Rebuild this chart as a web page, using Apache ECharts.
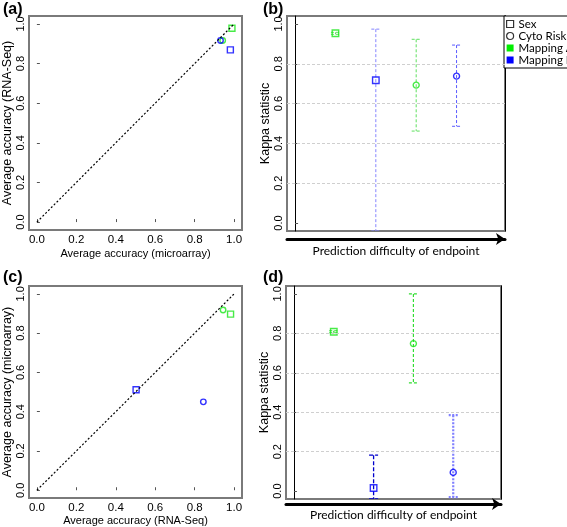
<!DOCTYPE html>
<html>
<head>
<meta charset="utf-8">
<script src="https://cdn.jsdelivr.net/npm/echarts@6/dist/echarts.min.js"></script>
<style>
html, body { margin: 0; padding: 0; background: #fff; }
#chart { width: 567px; height: 527px; }
</style>
</head>
<body>
<div id="chart"></div>
<script>
// Data
var endpoints = ['Sex', 'Cyto Risk'];
var mappings = ['Mapping A', 'Mapping B'];

// (a) average accuracy [microarray, RNA-Seq], one pair per endpoint
var accA_mappingA = [[0.989, 0.978], [0.942, 0.916]];
var accA_mappingB = [[0.981, 0.869], [0.931, 0.916]];
// (c) average accuracy [RNA-Seq, microarray], one pair per endpoint
var accC_mappingA = [[0.982, 0.897], [0.944, 0.918]];
var accC_mappingB = [[0.503, 0.512], [0.844, 0.450]];
var identityLine = [[0, 0], [1, 1]];
var accTicks = [0, 0.2, 0.4, 0.6, 0.8, 1.0];

// (b), (d) kappa statistic along the difficulty axis
var kappaPos = [1, 2, 3, 4];
var kappaEndpoint = ['Sex', 'Sex', 'Cyto Risk', 'Cyto Risk'];
var kappaMapping = ['Mapping A', 'Mapping B', 'Mapping A', 'Mapping B'];
var kappaB = [0.953, 0.717, 0.693, 0.738];
var kappaBLow = [0.948, -0.04, 0.462, 0.486];
var kappaBHigh = [0.958, 0.974, 0.923, 0.894];
var kappaD = [0.808, 0.016, 0.748, 0.095];
var kappaDLow = [0.803, -0.04, 0.549, -0.03];
var kappaDHigh = [0.813, 0.182, 1.0, 0.385];
var kappaTicks = [0, 0.2, 0.4, 0.6, 0.8, 1.0];
var kappaGrid = [0.2, 0.4, 0.6, 0.8];

// Styles
var mapColor = { 'Mapping A': '#19e619', 'Mapping B': '#0000ff' };
var endpointSymbol = { 'Sex': 'rect', 'Cyto Risk': 'circle' };
var errStylesB = [
    { color: '#5ee05e', width: 1, dash: [3, 2] },
    { color: '#8585ff', width: 1, dash: [3, 2] },
    { color: '#5ee05e', width: 1, dash: [3, 2] },
    { color: '#5a5aff', width: 1, dash: [3, 2] }
];
var errStylesD = [
    { color: '#33dd33', width: 1.2, dash: [3, 2] },
    { color: '#0000cc', width: 1.3, dash: [4, 2] },
    { color: '#33dd33', width: 1.2, dash: [3, 2] },
    { color: '#8080ff', width: 2.2, dash: [2, 1.5] }
];

var arial = '"Liberation Sans", Arial, sans-serif';
var calibri = 'Lato, "Open Sans", sans-serif';

var chart = echarts.init(document.getElementById('chart'), null, { renderer: 'canvas' });

// Scatter of accuracy for one endpoint in one panel
function accSeries(gridIdx, mapA, mapB, e) {
    return {
        name: endpoints[e],
        type: 'scatter',
        xAxisIndex: gridIdx,
        yAxisIndex: gridIdx,
        symbol: endpointSymbol[endpoints[e]],
        symbolSize: endpointSymbol[endpoints[e]] === 'rect' ? 6 : 5.5,
        data: [
            { value: mapA[e], itemStyle: { color: 'rgba(0,0,0,0)', borderColor: mapColor[mappings[0]], borderWidth: 1.4 } },
            { value: mapB[e], itemStyle: { color: 'rgba(0,0,0,0)', borderColor: mapColor[mappings[1]], borderWidth: 1.4 } }
        ]
    };
}

// Scatter of kappa points for one endpoint
function kappaSeries(gridIdx, values, endpoint, withGrid) {
    var data = [];
    for (var i = 0; i < kappaPos.length; i++) {
        if (kappaEndpoint[i] !== endpoint) continue;
        data.push({
            value: [kappaPos[i], values[i]],
            itemStyle: { color: 'rgba(0,0,0,0)', borderColor: mapColor[kappaMapping[i]], borderWidth: 1.4 }
        });
    }
    var s = {
        name: endpoint,
        type: 'scatter',
        xAxisIndex: gridIdx,
        yAxisIndex: gridIdx,
        symbol: endpointSymbol[endpoint],
        symbolSize: endpointSymbol[endpoint] === 'rect' ? 6.5 : 6,
        z: 3,
        data: data
    };
    if (withGrid) {
        s.markLine = {
            silent: true,
            symbol: 'none',
            label: { show: false },
            lineStyle: { color: '#cfcfcf', type: [3, 2], width: 1.2 },
            data: kappaGrid.map(function (v) { return { yAxis: v }; })
        };
    }
    return s;
}

// Error bars for one mapping
function errSeries(gridIdx, low, high, mapping, styles) {
    var data = [];
    for (var i = 0; i < kappaPos.length; i++) {
        if (kappaMapping[i] !== mapping) continue;
        data.push([kappaPos[i], low[i], high[i], i]);
    }
    return {
        name: mapping,
        type: 'custom',
        xAxisIndex: gridIdx,
        yAxisIndex: gridIdx,
        clip: true,
        z: 2,
        encode: { x: 0, y: [1, 2] },
        itemStyle: { color: mapColor[mapping] },
        renderItem: function (params, api) {
            var st = styles[api.value(3)];
            var top = api.coord([api.value(0), api.value(2)]);
            var bot = api.coord([api.value(0), api.value(1)]);
            var half = 4.5;
            var style = { stroke: st.color, lineWidth: st.width, lineDash: st.dash, fill: null };
            return {
                type: 'group',
                children: [
                    { type: 'line', shape: { x1: top[0], y1: top[1], x2: bot[0], y2: bot[1] }, style: style },
                    { type: 'line', shape: { x1: top[0] - half, y1: top[1], x2: top[0] + half, y2: top[1] }, style: style },
                    { type: 'line', shape: { x1: bot[0] - half, y1: bot[1], x2: bot[0] + half, y2: bot[1] }, style: style }
                ]
            };
        },
        data: data
    };
}

function accXAxis(gridIdx, name, nameGap) {
    return {
        type: 'value', gridIndex: gridIdx, min: -0.04, max: 1.04,
        axisLine: { show: false },
        axisTick: { show: true, inside: true, length: 3, customValues: accTicks, lineStyle: { color: '#555' } },
        axisLabel: {
            customValues: accTicks, margin: 4, color: '#000', fontFamily: arial, fontSize: 11.5,
            formatter: function (v) { return v.toFixed(1); }
        },
        splitLine: { show: false },
        name: name, nameLocation: 'middle', nameGap: nameGap,
        nameTextStyle: { fontFamily: arial, fontSize: 11, color: '#000' }
    };
}

function leftYAxis(gridIdx, ticks, name, black) {
    return {
        type: 'value', gridIndex: gridIdx, min: -0.04, max: 1.04,
        axisLine: { show: black, lineStyle: { color: '#000', width: 1 } },
        axisTick: { show: true, inside: true, length: 3, customValues: ticks, lineStyle: { color: '#555' } },
        axisLabel: {
            customValues: ticks, rotate: 90, margin: 3, color: '#000', fontFamily: arial, fontSize: 11,
            formatter: function (v) { return v.toFixed(1); }
        },
        splitLine: { show: false },
        name: name, nameLocation: 'middle', nameGap: 15,
        nameTextStyle: { fontFamily: arial, fontSize: 12.5, color: '#000' }
    };
}

function difficultyAxis(gridIdx, offset, nameGap) {
    return {
        type: 'value', gridIndex: gridIdx, min: -0.2, max: 5.2, offset: offset,
        axisLine: {
            show: true, onZero: false, symbol: ['none', 'arrow'], symbolSize: [9, 9],
            lineStyle: { color: '#000', width: 3 }
        },
        axisTick: { show: false },
        axisLabel: { show: false },
        splitLine: { show: false },
        name: 'Prediction difficulty of endpoint', nameLocation: 'middle', nameGap: nameGap,
        nameTextStyle: { fontFamily: calibri, fontSize: 12, color: '#000', verticalAlign: 'top' }
    };
}

function rightBorder(gridIdx) {
    return {
        type: 'value', gridIndex: gridIdx, position: 'right', min: -0.04, max: 1.04,
        axisLine: { show: true, lineStyle: { color: '#000', width: 1 } },
        axisTick: { show: false }, axisLabel: { show: false }, splitLine: { show: false }
    };
}

var gridBox = { show: true, borderColor: '#7a7a7a', borderWidth: 2, backgroundColor: 'rgba(0,0,0,0)' };

chart.setOption({
    animation: false,
    backgroundColor: '#fff',

    // Panel letters
    graphic: [
        { type: 'text', left: 3, top: 2, style: { text: '(a)', font: 'bold 16px ' + arial, fill: '#000' } },
        { type: 'text', left: 263, top: 2, style: { text: '(b)', font: 'bold 16px ' + arial, fill: '#000' } },
        { type: 'text', left: 3, top: 270, style: { text: '(c)', font: 'bold 16px ' + arial, fill: '#000' } },
        { type: 'text', left: 263, top: 270, style: { text: '(d)', font: 'bold 16px ' + arial, fill: '#000' } }
    ],

    // Legend box of panel (b)
    legend: {
        orient: 'vertical',
        left: 504,
        top: 16,
        itemWidth: 7,
        itemHeight: 7,
        itemGap: 0,
        itemTextGap: 6,
        padding: [2, 3, 2, 2],
        borderColor: '#000',
        borderWidth: 1,
        backgroundColor: '#fff',
        selectedMode: false,
        textStyle: { fontFamily: calibri, fontSize: 11.5, lineHeight: 11.5, color: '#000' },
        data: [
            { name: 'Sex', icon: 'rect', itemStyle: { color: '#fff', borderColor: '#000', borderWidth: 1.2 } },
            { name: 'Cyto Risk', icon: 'circle', itemStyle: { color: '#fff', borderColor: '#000', borderWidth: 1.2 } },
            { name: 'Mapping A', icon: 'rect', itemStyle: { color: '#00ee00', borderWidth: 0 } },
            { name: 'Mapping B', icon: 'rect', itemStyle: { color: '#0000ff', borderWidth: 0 } }
        ]
    },

    // Setup grids
    grid: [
        Object.assign({ left: 25, top: 16, width: 217, height: 214 }, gridBox),
        Object.assign({ left: 287, top: 16, width: 218, height: 215 }, gridBox),
        Object.assign({ left: 25, top: 286, width: 217, height: 213 }, gridBox),
        Object.assign({ left: 286, top: 286, width: 215, height: 213 }, gridBox)
    ],

    xAxis: [
        accXAxis(0, 'Average accuracy (microarray)', 18),
        difficultyAxis(1, 8, 6),
        accXAxis(2, 'Average accuracy (RNA-Seq)', 15),
        difficultyAxis(3, 5, 5)
    ],

    yAxis: [
        leftYAxis(0, accTicks, 'Average accuracy (RNA-Seq)', false),
        leftYAxis(1, kappaTicks, 'Kappa statistic', true),
        leftYAxis(2, accTicks, 'Average accuracy (microarray)', false),
        leftYAxis(3, kappaTicks, 'Kappa statistic', true),
        rightBorder(1),
        rightBorder(3)
    ],

    // Add series
    series: [
        {
            name: 'identity a', type: 'line', xAxisIndex: 0, yAxisIndex: 0,
            symbol: 'none', data: identityLine,
            lineStyle: { color: '#000', width: 1.2, type: [2, 2] }
        },
        accSeries(0, accA_mappingA, accA_mappingB, 0),
        accSeries(0, accA_mappingA, accA_mappingB, 1),

        {
            name: 'identity c', type: 'line', xAxisIndex: 2, yAxisIndex: 2,
            symbol: 'none', data: identityLine,
            lineStyle: { color: '#000', width: 1.2, type: [2, 2] }
        },
        accSeries(2, accC_mappingA, accC_mappingB, 0),
        accSeries(2, accC_mappingA, accC_mappingB, 1),

        kappaSeries(1, kappaB, 'Sex', true),
        kappaSeries(1, kappaB, 'Cyto Risk', false),
        errSeries(1, kappaBLow, kappaBHigh, 'Mapping A', errStylesB),
        errSeries(1, kappaBLow, kappaBHigh, 'Mapping B', errStylesB),

        kappaSeries(3, kappaD, 'Sex', true),
        kappaSeries(3, kappaD, 'Cyto Risk', false),
        errSeries(3, kappaDLow, kappaDHigh, 'Mapping A', errStylesD),
        errSeries(3, kappaDLow, kappaDHigh, 'Mapping B', errStylesD)
    ]
});
</script>
</body>
</html>
